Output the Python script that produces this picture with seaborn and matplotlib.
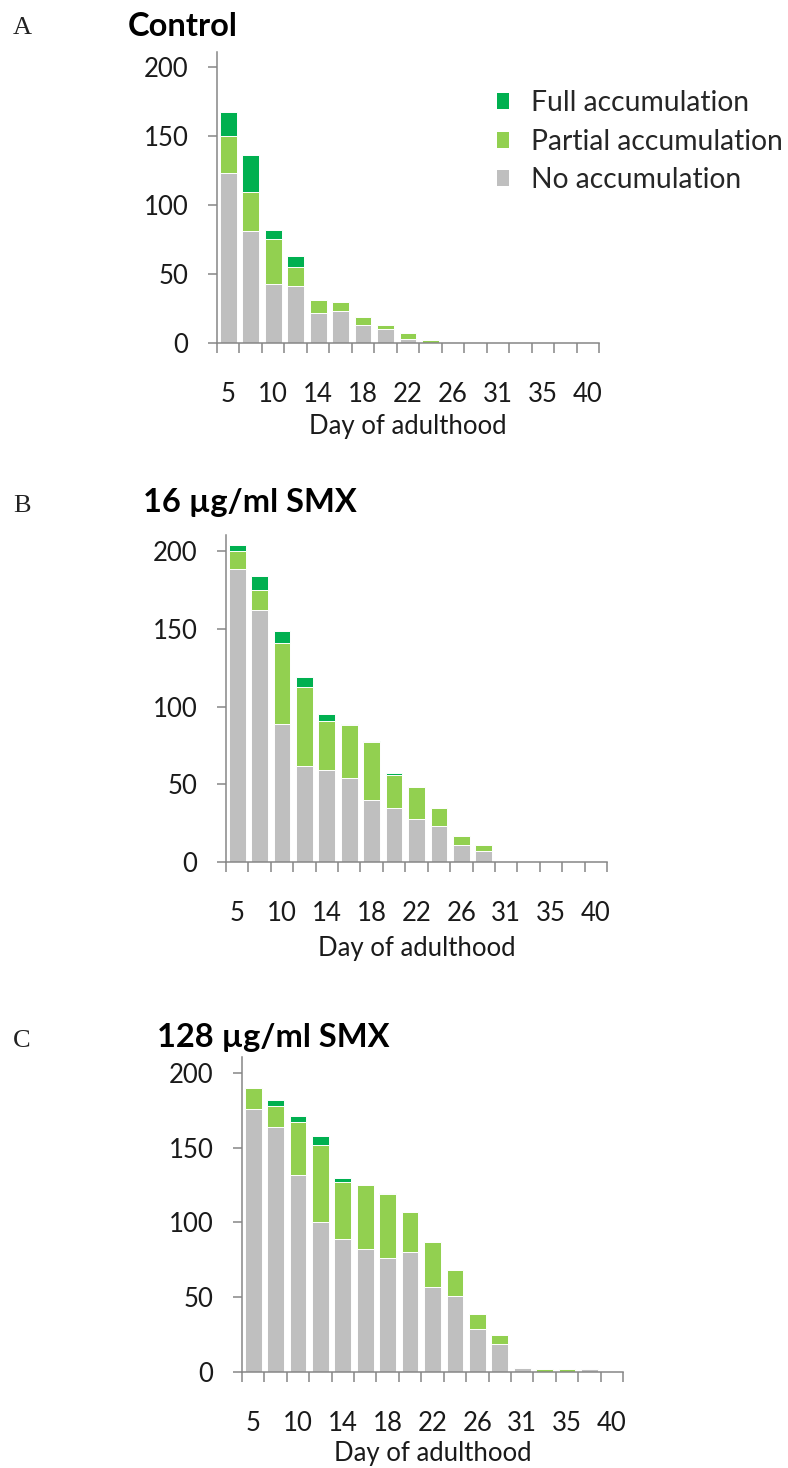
import numpy as np
import pandas as pd
import matplotlib
matplotlib.use("Agg")
import matplotlib.pyplot as plt
from matplotlib.patches import Patch
import seaborn as sns

# Days of adulthood (only every other one is labelled on the axis)
days = [5, 7, 10, 12, 14, 16, 18, 20, 22, 24, 26, 28, 31, 33, 35, 38, 40]

# Counts per day
ctrl_no = [123, 81, 43, 41, 22, 23, 13, 10, 3, 0, 1, 1, 0, 0, 0, 0, 0]
ctrl_partial = [27, 28, 32, 14, 9, 7, 6, 3, 4, 2, 0, 0, 0, 0, 0, 0, 0]
ctrl_full = [17, 27, 7, 8, 0, 0, 0, 0, 0, 0, 0, 0, 0, 0, 0, 0, 0]

smx16_no = [189, 162, 89, 62, 59, 54, 40, 35, 28, 23, 11, 7, 0, 0, 0, 0, 0]
smx16_partial = [11, 13, 52, 51, 32, 34, 37, 21, 20, 12, 6, 4, 0, 0, 0, 0, 0]
smx16_full = [4, 9, 8, 6, 4, 1, 1, 1, 0, 0, 0, 0, 0, 0, 0, 0, 0]

smx128_no = [176, 164, 132, 100, 89, 82, 76, 80, 57, 51, 29, 19, 3, 0, 0, 2, 0]
smx128_partial = [14, 14, 35, 52, 38, 43, 43, 27, 30, 17, 10, 6, 0, 2, 2, 0, 0]
smx128_full = [0, 4, 4, 6, 3, 0, 1, 0, 0, 0, 0, 0, 0, 0, 0, 0, 0]

titles = ["Control", "16 \u00b5g/ml SMX", "128 \u00b5g/ml SMX"]
letters = ["A", "B", "C"]
series_names = ["Full accumulation", "Partial accumulation", "No accumulation"]

C_FULL = "#00B050"
C_PART = "#92D050"
C_NO = "#BFBFBF"
AXIS_C = "#868686"

sns.set_theme(style="white")
plt.rcParams["font.family"] = ["Lato", "DejaVu Sans"]

W, H = 788, 1468
fig = plt.figure(figsize=(W / 100, H / 100), dpi=100)

# panel boxes in pixels: left, right, bottom(y=0), top, xlabel offset
boxes = [(217, 599, 343, 52, 71), (226, 607, 862, 535, 74), (242, 623, 1372, 1057, 69)]
title_pos = [(128, 36), (143, 512), (157, 1047)]
letter_pos = [(13, 34), (13, 512), (13, 1047)]

panels = [
    (ctrl_no, ctrl_partial, ctrl_full),
    (smx16_no, smx16_partial, smx16_full),
    (smx128_no, smx128_partial, smx128_full),
]

order = [str(d) for d in days]
FS = 18.5

for i, (no, part, full) in enumerate(panels):
    l, r, b, t, xl_off = boxes[i]
    ax = fig.add_axes([l / W, 1 - b / H, (r - l) / W, (b - t) / H])

    df = pd.DataFrame({"day": order, "no": no, "partial": part, "full": full})
    df["np"] = df["no"] + df["partial"]
    df["total"] = df["np"] + df["full"]

    # stack by overlaying cumulative sums
    for col, colr in [("total", C_FULL), ("np", C_PART), ("no", C_NO)]:
        sns.barplot(data=df, x="day", y=col, order=order, color=colr, ax=ax,
                    width=0.75, edgecolor="white", linewidth=0.7, saturation=1)

    ax.set_xlim(-0.5, len(days) - 0.5)
    ax.set_ylim(0, 210.6)
    ax.set_yticks([0, 50, 100, 150, 200])
    ax.set_xticks(range(len(days)))
    ax.set_xticklabels([d if k % 2 == 0 else "" for k, d in enumerate(order)])
    ax.set_xticks(np.arange(-0.5, len(days), 1), minor=True)
    ax.tick_params(axis="x", which="major", length=0, pad=28, labelsize=FS,
                   colors="#1a1a1a")
    ax.tick_params(axis="x", which="minor", length=7.5, width=1.1, color=AXIS_C,
                   direction="out", bottom=True)
    ax.tick_params(axis="y", length=6.5, width=1.1, color=AXIS_C, direction="out",
                   pad=14, labelsize=FS, labelcolor="#1a1a1a", left=True)

    sns.despine(ax=ax)
    for s in ["left", "bottom"]:
        ax.spines[s].set_color(AXIS_C)
        ax.spines[s].set_linewidth(1.1)

    ax.set_ylabel("")
    ax.set_xlabel("Day of adulthood", fontsize=FS, color="#1a1a1a", va="top")
    ax.xaxis.set_label_coords(0.5, -xl_off / (b - t))

    tx, ty = title_pos[i]
    fig.text(tx / W, 1 - ty / H, titles[i], fontsize=23.5, fontweight="bold",
             va="baseline", ha="left", color="black")
    lx, ly = letter_pos[i]
    fig.text(lx / W, 1 - ly / H, letters[i], fontsize=19, family="Liberation Serif",
             va="baseline", ha="left", color="#222222")

    if i == 0:
        handles = [Patch(facecolor=c, edgecolor="none") for c in (C_FULL, C_PART, C_NO)]
        fig.legend(handles, series_names, loc="upper left",
                   bbox_to_anchor=(497 / W, 1 - 90 / H), frameon=False,
                   fontsize=20.3, borderpad=0, borderaxespad=0,
                   handlelength=0.42, handleheight=0.5, handletextpad=0.8,
                   labelspacing=0.45)

fig.savefig("out.png", dpi=100)
